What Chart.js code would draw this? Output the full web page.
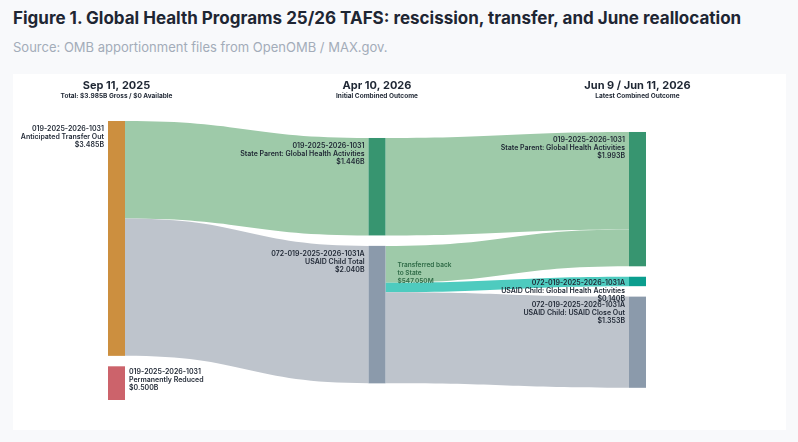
<!DOCTYPE html>
<html>
<head>
<meta charset="utf-8">
<script src="https://cdn.jsdelivr.net/npm/chart.js@4"></script>
<style>
  body { margin: 0; background: #f8f9fb; font-family: Inter, sans-serif; width: 798px; height: 442px; overflow: hidden; position: relative; }
  h1 { position: absolute; left: 13px; top: 8px; margin: 0; font-size: 17px; font-weight: 700; color: #1e2633; }
  .sub { position: absolute; left: 13px; top: 39px; font-size: 13px; color: #a3acb9; }
  .card { position: absolute; left: 13px; top: 74px; width: 773px; height: 356px; background: #fff; }
  canvas { position: absolute; left: 0; top: 0; }
</style>
</head>
<body>
<h1>Figure 1. Global Health Programs 25/26 TAFS: rescission, transfer, and June reallocation</h1>
<div class="sub">Source: OMB apportionment files from OpenOMB / MAX.gov.</div>
<div class="card"></div>
<canvas id="sankey" width="798" height="442"></canvas>
<script>
// columns
const columnTitles = ['Sep 11, 2025', 'Apr 10, 2026', 'Jun 9 / Jun 11, 2026'];
const columnSubtitles = ['Total: $3.985B Gross / $0 Available', 'Initial Combined Outcome', 'Latest Combined Outcome'];

// nodes (values in $B)
const nodeCodes = ['019-2025-2026-1031', '019-2025-2026-1031', '019-2025-2026-1031', '072-019-2025-2026-1031A',
                   '019-2025-2026-1031', '072-019-2025-2026-1031A', '072-019-2025-2026-1031A'];
const nodeNames = ['Anticipated Transfer Out', 'Permanently Reduced', 'State Parent: Global Health Activities', 'USAID Child Total',
                   'State Parent: Global Health Activities', 'USAID Child: Global Health Activities', 'USAID Child: USAID Close Out'];
const nodeAmounts = ['$3.485B', '$0.500B', '$1.446B', '$2.040B', '$1.993B', '$0.140B', '$1.353B'];
const nodeColumns = [0, 0, 1, 1, 2, 2, 2];
const nodeValues = [3.485, 0.500, 1.446, 2.040, 1.993, 0.140, 1.353];

// flows
const flowSource = [0, 0, 2, 3, 3, 3];
const flowTarget = [2, 3, 4, 4, 5, 6];
const flowValues = [1.446, 2.039, 1.446, 0.547, 0.140, 1.353];

const nodeColors = ['#cc8f3f', '#cc636b', '#379570', '#8b9aab', '#379570', '#0b9e8e', '#8b9aab'];
const flowColors = ['#9ecaa9', '#bec4cc', '#9ecaa9', '#9ecaa9', '#4ecbbf', '#bec4cc'];

// layout: column top offset and gap between nodes, in $B
const colOffset = [0, 0.252, 0.163];
const nodeGap = 0.155;
const nodeWidth = 17;

// compute node tops
const nodeTop = [];
const colCursor = colOffset.slice();
nodeValues.forEach((v, i) => {
    const c = nodeColumns[i];
    nodeTop[i] = colCursor[c];
    colCursor[c] += v + nodeGap;
});

const sankeyPlugin = {
    id: 'sankey',
    afterDatasetsDraw(chart) {
        const ctx = chart.ctx;
        const xs = chart.scales.x, ys = chart.scales.y;
        const px = c => xs.getPixelForValue(c);
        const py = v => ys.getPixelForValue(v);
        const outCursor = nodeTop.slice();
        const inCursor = nodeTop.slice();

        // flows
        flowValues.forEach((v, i) => {
            const s = flowSource[i], t = flowTarget[i];
            const x0 = px(nodeColumns[s]) + nodeWidth, x1 = px(nodeColumns[t]);
            const s0 = py(outCursor[s]), s1 = py(outCursor[s] + v);
            const t0 = py(inCursor[t]), t1 = py(inCursor[t] + v);
            outCursor[s] += v; inCursor[t] += v;
            const xm = (x0 + x1) / 2;
            ctx.beginPath();
            ctx.moveTo(x0, s0);
            ctx.bezierCurveTo(xm, s0, xm, t0, x1, t0);
            ctx.lineTo(x1, t1);
            ctx.bezierCurveTo(xm, t1, xm, s1, x0, s1);
            ctx.closePath();
            ctx.fillStyle = flowColors[i];
            ctx.fill();
        });

        // nodes
        nodeValues.forEach((v, i) => {
            ctx.fillStyle = nodeColors[i];
            ctx.fillRect(px(nodeColumns[i]), py(nodeTop[i]), nodeWidth, py(nodeTop[i] + v) - py(nodeTop[i]));
        });

        // labels
        ctx.fillStyle = '#1e2633';
        ctx.font = '600 7px Inter, sans-serif';
        ctx.textBaseline = 'middle';
        nodeValues.forEach((v, i) => {
            const lines = [nodeCodes[i], nodeNames[i], nodeAmounts[i]];
            let x, y = py(nodeTop[i]) + 8;
            if (i === 1) { ctx.textAlign = 'left'; x = px(0) + nodeWidth + 4; y = py(nodeTop[i]) + 6; }
            else { ctx.textAlign = 'right'; x = px(nodeColumns[i]) - 4; }
            if (i === 5) y = py(nodeTop[i]) + 6;
            lines.forEach((l, k) => ctx.fillText(l, x, y + k * 8));
        });

        // transfer annotation
        ctx.fillStyle = '#2f6b47';
        ctx.font = '600 6.5px Inter, sans-serif';
        ctx.textAlign = 'left';
        ['Transferred back', 'to State', '$547.050M'].forEach((l, k) => ctx.fillText(l, px(1) + nodeWidth + 12, 265 + k * 8));

        // column headers
        ctx.textAlign = 'center';
        columnTitles.forEach((t, c) => {
            const cx = px(c) + nodeWidth / 2;
            ctx.fillStyle = '#1e2633';
            ctx.font = '700 11px Inter, sans-serif';
            ctx.fillText(t, cx, 86);
            ctx.font = '700 6.5px Inter, sans-serif';
            ctx.fillText(columnSubtitles[c], cx, 96);
        });
    }
};

new Chart(document.getElementById('sankey'), {
    type: 'scatter',
    data: { datasets: [{ data: nodeValues.map((v, i) => ({ x: nodeColumns[i], y: nodeTop[i] })), pointRadius: 0 }] },
    options: {
        responsive: false,
        animation: false,
        layout: { padding: { left: 108, right: 169, top: 121, bottom: 42 } },
        scales: {
            x: { type: 'linear', min: 0, max: 2, display: false },
            y: { type: 'linear', min: 0, max: 4.14, reverse: true, display: false }
        },
        plugins: { legend: { display: false }, tooltip: { enabled: false } }
    },
    plugins: [sankeyPlugin]
});
</script>
</body>
</html>
